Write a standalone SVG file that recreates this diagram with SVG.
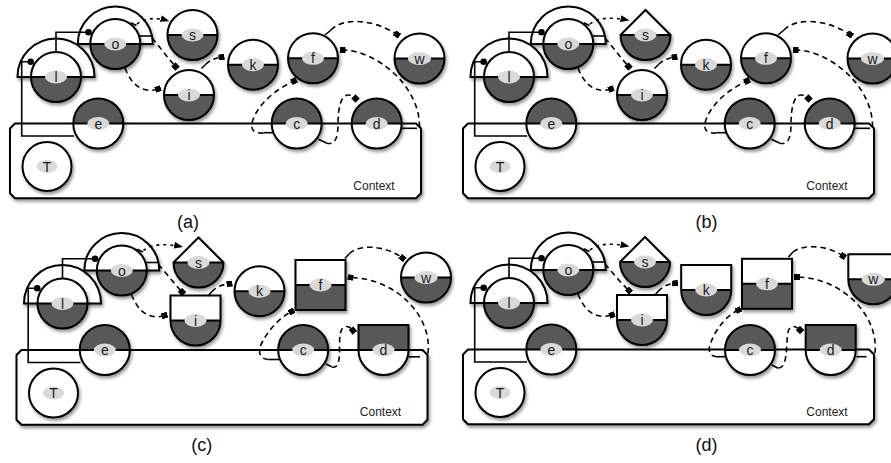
<svg xmlns="http://www.w3.org/2000/svg" xmlns:xlink="http://www.w3.org/1999/xlink" width="891" height="463" viewBox="0 0 891 463">
<style>
.ol{fill:none;stroke:#000;stroke-width:2}
.wf{fill:#fff}
.df{fill:#595959}
.lb{fill:#d9d9d9}
.tx{font-family:"Liberation Sans",Arial,sans-serif;font-size:14px;text-anchor:middle;fill:#1a1a1a}
.cap{font-family:"Liberation Sans",Arial,sans-serif;font-size:18px;text-anchor:middle;fill:#111}
.ctx{font-family:"Liberation Sans",Arial,sans-serif;font-size:12px;fill:#222}
.sl{fill:none;stroke:#000;stroke-width:1.6}
.da{fill:none;stroke:#000;stroke-width:1.6;stroke-dasharray:5.5 4}
.dt{fill:none;stroke:#000;stroke-width:1.6;stroke-dasharray:3 4}
.box{fill:#fff;stroke:#000;stroke-width:2}
</style>
<defs>
<filter id="sh" x="-25%" y="-25%" width="160%" height="160%"><feDropShadow dx="1.5" dy="2.5" stdDeviation="1.5" flood-color="#000" flood-opacity="0.4"/></filter>
<marker id="sq" viewBox="0 0 6 6" refX="3" refY="3" markerWidth="6" markerHeight="6" markerUnits="userSpaceOnUse" orient="auto"><rect width="6" height="6" fill="#000"/></marker>
<marker id="arr" viewBox="0 0 9 7" refX="8.5" refY="3.5" markerWidth="9" markerHeight="7" markerUnits="userSpaceOnUse" orient="auto"><path d="M0,0L9,3.5L0,7Z" fill="#000"/></marker>
<g id="cWD"><path class="wf" d="M-25,0A25,25 0 0 1 25,0Z"/><path class="df" d="M-25,0A25,25 0 0 0 25,0Z"/><circle class="ol" r="25"/><path class="ol" d="M-25,0H25"/></g>
<g id="cDW"><path class="df" d="M-25,0A25,25 0 0 1 25,0Z"/><path class="wf" d="M-25,0A25,25 0 0 0 25,0Z"/><circle class="ol" r="25"/><path class="ol" d="M-25,0H25"/></g>
<g id="cW"><circle class="wf" r="24.5"/><circle class="ol" r="24.5"/></g>
<g id="hWD"><path class="wf" d="M-25,0L0,-25L25,0Z"/><path class="df" d="M-25,0A25,25 0 0 0 25,0Z"/><path class="ol" d="M-25,0L0,-25L25,0A25,25 0 0 1 -25,0Z"/><path class="ol" d="M-25,0H25"/></g>
<g id="rWD"><rect class="wf" x="-25" y="-25" width="50" height="25"/><path class="df" d="M-25,0A25,25 0 0 0 25,0Z"/><path class="ol" d="M-25,0V-25H25V0A25,25 0 0 1 -25,0Z"/><path class="ol" d="M-25,0H25"/></g>
<g id="rDW"><rect class="df" x="-25" y="-25" width="50" height="25"/><path class="wf" d="M-25,0A25,25 0 0 0 25,0Z"/><path class="ol" d="M-25,0V-25H25V0A25,25 0 0 1 -25,0Z"/><path class="ol" d="M-25,0H25"/></g>
<g id="sWD"><rect class="wf" x="-25" y="-25" width="50" height="25"/><rect class="df" x="-25" y="0" width="50" height="25"/><rect class="ol" x="-25" y="-25" width="50" height="50"/><path class="ol" d="M-25,0H25"/></g>
<path id="arcL" d="M-38.5,0A38.5,38.5 0 0 1 38.5,0Z" fill="#fff" stroke="#000" stroke-width="2"/>
<path id="arcO" d="M-37.5,0A37.5,37.5 0 0 1 37.5,0Z" fill="#fff" stroke="#000" stroke-width="2"/>
<path id="boxP" d="M15,123.5H416L421,128.5V193.3L416,198.3H15L10,193.3V128.5Z"/>
</defs>

<!-- ===== Panel (a) ===== -->
<g id="panel-a">
<g id="a-context"><use href="#boxP" class="box" filter="url(#sh)"/><text class="ctx" x="353.3" y="189.5">Context</text></g>
<g id="a-T" transform="translate(47,166.5)"><use href="#cW" filter="url(#sh)"/><ellipse class="lb" rx="10.5" ry="6.5"/><text class="tx" y="5">T</text></g>
<g id="a-l" transform="translate(56,77)"><use href="#arcL" filter="url(#sh)"/><use href="#cWD" filter="url(#sh)"/><ellipse class="lb" rx="11" ry="6.5"/><text class="tx" y="5">l</text></g>
<g id="a-o" transform="translate(115.3,44)"><use href="#arcO" filter="url(#sh)"/><use href="#cWD" filter="url(#sh)"/><ellipse class="lb" rx="11" ry="6.5"/><text class="tx" y="5">o</text></g>
<g id="a-s" transform="translate(192.5,35)"><use href="#cWD" filter="url(#sh)"/><ellipse class="lb" rx="11" ry="6.5"/><text class="tx" y="5">s</text></g>
<g id="a-i" transform="translate(189,95)"><use href="#cWD" filter="url(#sh)"/><ellipse class="lb" rx="11" ry="6.5"/><text class="tx" y="5">i</text></g>
<g id="a-k" transform="translate(253,64.7)"><use href="#cWD" filter="url(#sh)"/><ellipse class="lb" rx="11" ry="6.5"/><text class="tx" y="5">k</text></g>
<g id="a-f" transform="translate(313,58.3)"><use href="#cWD" filter="url(#sh)"/><ellipse class="lb" rx="11" ry="6.5"/><text class="tx" y="5">f</text></g>
<g id="a-w" transform="translate(419.5,58.5)"><use href="#cWD" filter="url(#sh)"/><ellipse class="lb" rx="11.5" ry="6.5"/><text class="tx" y="5">w</text></g>
<g id="a-e" transform="translate(98.3,123.5)"><use href="#cDW" filter="url(#sh)"/><ellipse class="lb" rx="11" ry="6.5"/><text class="tx" y="5">e</text></g>
<g id="a-c" transform="translate(296.7,123.5)"><use href="#cDW" filter="url(#sh)"/><ellipse class="lb" rx="11" ry="6.5"/><text class="tx" y="5">c</text></g>
<g id="a-d" transform="translate(376.7,123.5)"><use href="#cDW" filter="url(#sh)"/><ellipse class="lb" rx="11" ry="6.5"/><text class="tx" y="5">d</text></g>
<g id="a-connectors">
<path class="sl" d="M74,136H21.7V61.7H28"/><circle cx="30.7" cy="61.7" r="3.3"/>
<path class="sl" d="M56,52V32.3H86"/><circle cx="88.5" cy="32.2" r="3.3"/>
<path class="sl" d="M130.7,22.7L136.5,25.5"/>
<path class="dt" marker-end="url(#arr)" d="M137,24C145,18 156,17 169,21"/>
<path class="sl" d="M140,36H152"/>
<path class="da" marker-end="url(#sq)" d="M152,38C159,46 167,57 175.5,66.5"/>
<path class="da" marker-end="url(#sq)" d="M125,68C131,84 142,94 158,89"/>
<path class="sl" d="M201.5,68.5L205.5,64.5"/>
<path class="da" marker-end="url(#sq)" d="M205.5,64.5C210,60 215,58 221.5,57.2"/>
<path class="sl" d="M325,35L331,30"/>
<path class="da" marker-end="url(#sq)" d="M331,30C342,18 372,18 397,34.5"/>
<path class="sl" d="M401.5,128.3H417"/>
<path class="da" marker-end="url(#sq)" d="M419.5,127C420,85 375,50 342.5,50"/>
<path class="sl" d="M273,132.7H263.5"/>
<path class="da" marker-end="url(#sq)" d="M263.5,133C250,134 249,126 256,113C264,99 279,88 294,81"/>
<path class="sl" d="M318.3,139.3L326,142.7"/>
<path class="da" marker-end="url(#sq)" d="M326,143C336,146 338,136 338,124C338,108 341,95 348,95C351,95 353,96 355.5,98.5"/>
</g>
</g>

<!-- ===== Panel (b) ===== -->
<g id="panel-b" transform="translate(453,0)">
<g id="b-context"><use href="#boxP" class="box" filter="url(#sh)"/><text class="ctx" x="353.3" y="189.5">Context</text></g>
<g id="b-T" transform="translate(47,166.5)"><use href="#cW" filter="url(#sh)"/><ellipse class="lb" rx="10.5" ry="6.5"/><text class="tx" y="5">T</text></g>
<g id="b-l" transform="translate(56,77)"><use href="#arcL" filter="url(#sh)"/><use href="#cWD" filter="url(#sh)"/><ellipse class="lb" rx="11" ry="6.5"/><text class="tx" y="5">l</text></g>
<g id="b-o" transform="translate(115.3,44)"><use href="#arcO" filter="url(#sh)"/><use href="#cWD" filter="url(#sh)"/><ellipse class="lb" rx="11" ry="6.5"/><text class="tx" y="5">o</text></g>
<g id="b-s" transform="translate(192.5,35)"><use href="#hWD" filter="url(#sh)"/><ellipse class="lb" rx="11" ry="6.5"/><text class="tx" y="5">s</text></g>
<g id="b-i" transform="translate(189,95)"><use href="#cWD" filter="url(#sh)"/><ellipse class="lb" rx="11" ry="6.5"/><text class="tx" y="5">i</text></g>
<g id="b-k" transform="translate(253,64.7)"><use href="#cWD" filter="url(#sh)"/><ellipse class="lb" rx="11" ry="6.5"/><text class="tx" y="5">k</text></g>
<g id="b-f" transform="translate(313,58.3)"><use href="#cWD" filter="url(#sh)"/><ellipse class="lb" rx="11" ry="6.5"/><text class="tx" y="5">f</text></g>
<g id="b-w" transform="translate(419.5,58.5)"><use href="#cWD" filter="url(#sh)"/><ellipse class="lb" rx="11.5" ry="6.5"/><text class="tx" y="5">w</text></g>
<g id="b-e" transform="translate(98.3,123.5)"><use href="#cDW" filter="url(#sh)"/><ellipse class="lb" rx="11" ry="6.5"/><text class="tx" y="5">e</text></g>
<g id="b-c" transform="translate(296.7,123.5)"><use href="#cDW" filter="url(#sh)"/><ellipse class="lb" rx="11" ry="6.5"/><text class="tx" y="5">c</text></g>
<g id="b-d" transform="translate(376.7,123.5)"><use href="#cDW" filter="url(#sh)"/><ellipse class="lb" rx="11" ry="6.5"/><text class="tx" y="5">d</text></g>
<g id="b-connectors">
<path class="sl" d="M74,136H21.7V61.7H28"/><circle cx="30.7" cy="61.7" r="3.3"/>
<path class="sl" d="M56,52V32.3H86"/><circle cx="88.5" cy="32.2" r="3.3"/>
<path class="sl" d="M130.7,22.7L136.5,25.5"/>
<path class="dt" marker-end="url(#arr)" d="M137,24C146,17 160,17 176,20.5"/>
<path class="sl" d="M140,36H152"/>
<path class="da" marker-end="url(#sq)" d="M152,38C159,46 167,57 175.5,66.5"/>
<path class="da" marker-end="url(#sq)" d="M125,68C131,84 142,94 158,89"/>
<path class="sl" d="M201.5,68.5L205.5,64.5"/>
<path class="da" marker-end="url(#sq)" d="M205.5,64.5C210,60 215,58 221.5,57.2"/>
<path class="sl" d="M325,35L331,30"/>
<path class="da" marker-end="url(#sq)" d="M331,30C342,18 372,18 397,34.5"/>
<path class="sl" d="M401.5,128.3H417"/>
<path class="da" marker-end="url(#sq)" d="M419.5,127C420,85 375,50 342.5,50"/>
<path class="sl" d="M273,132.7H263.5"/>
<path class="da" marker-end="url(#sq)" d="M263.5,133C250,134 249,126 256,113C264,99 279,88 294,81"/>
<path class="sl" d="M318.3,139.3L326,142.7"/>
<path class="da" marker-end="url(#sq)" d="M326,143C336,146 338,136 338,124C338,108 341,95 348,95C351,95 353,96 355.5,98.5"/>
</g>
</g>

<!-- ===== Panel (c) ===== -->
<g id="panel-c" transform="translate(6.5,226.5)">
<g id="c-context"><use href="#boxP" class="box" filter="url(#sh)"/><text class="ctx" x="353.3" y="189.5">Context</text></g>
<g id="c-T" transform="translate(47,166.5)"><use href="#cW" filter="url(#sh)"/><ellipse class="lb" rx="10.5" ry="6.5"/><text class="tx" y="5">T</text></g>
<g id="c-l" transform="translate(56,77)"><use href="#arcL" filter="url(#sh)"/><use href="#cWD" filter="url(#sh)"/><ellipse class="lb" rx="11" ry="6.5"/><text class="tx" y="5">l</text></g>
<g id="c-o" transform="translate(115.3,44)"><use href="#arcO" filter="url(#sh)"/><use href="#cWD" filter="url(#sh)"/><ellipse class="lb" rx="11" ry="6.5"/><text class="tx" y="5">o</text></g>
<g id="c-s" transform="translate(192,36)"><use href="#hWD" filter="url(#sh)"/><ellipse class="lb" rx="11" ry="6.5"/><text class="tx" y="5">s</text></g>
<g id="c-i" transform="translate(189,94)"><use href="#rWD" filter="url(#sh)"/><ellipse class="lb" rx="11" ry="6.5"/><text class="tx" y="5">i</text></g>
<g id="c-k" transform="translate(253,64.7)"><use href="#cWD" filter="url(#sh)"/><ellipse class="lb" rx="11" ry="6.5"/><text class="tx" y="5">k</text></g>
<g id="c-f" transform="translate(314,58.5)"><use href="#sWD" filter="url(#sh)"/><ellipse class="lb" rx="11" ry="6.5"/><text class="tx" y="5">f</text></g>
<g id="c-w" transform="translate(419.5,51)"><use href="#cWD" filter="url(#sh)"/><ellipse class="lb" rx="11.5" ry="6.5"/><text class="tx" y="5">w</text></g>
<g id="c-e" transform="translate(98.3,123.5)"><use href="#cDW" filter="url(#sh)"/><ellipse class="lb" rx="11" ry="6.5"/><text class="tx" y="5">e</text></g>
<g id="c-c" transform="translate(296.7,123.5)"><use href="#cDW" filter="url(#sh)"/><ellipse class="lb" rx="11" ry="6.5"/><text class="tx" y="5">c</text></g>
<g id="c-d" transform="translate(377,123.5)"><use href="#rDW" filter="url(#sh)"/><ellipse class="lb" rx="11" ry="6.5"/><text class="tx" y="5">d</text></g>
<g id="c-connectors">
<path class="sl" d="M74,136H21.7V61.7H28"/><circle cx="30.7" cy="61.7" r="3.3"/>
<path class="sl" d="M56,52V32.3H86"/><circle cx="88.5" cy="32.2" r="3.3"/>
<path class="sl" d="M130.7,22.7L136.5,25.5"/>
<path class="dt" marker-end="url(#arr)" d="M137,24C146,17 160,17 176,20.5"/>
<path class="sl" d="M140,36H152"/>
<path class="da" marker-end="url(#sq)" d="M152,38C159,46 167,56 175.5,65.5"/>
<path class="da" marker-end="url(#sq)" d="M125,68C131,84 142,94 158,89"/>
<path class="sl" d="M201.5,69.5L205,65.5"/>
<path class="da" marker-end="url(#sq)" d="M205,65.5C210,60 216,58 223,57.3"/>
<path class="sl" d="M338.5,32L343,27"/>
<path class="da" marker-end="url(#sq)" d="M343,27C352,18 378,18 396,31.5"/>
<path class="sl" d="M401.5,130.3H413.5"/>
<path class="da" marker-end="url(#sq)" d="M421.5,127C426,90 390,52 344,51"/>
<path class="sl" d="M272.5,133H262"/>
<path class="da" marker-end="url(#sq)" d="M262,133C252,132.5 251,124 256,115C262,104 272,92 285,85"/>
<path class="sl" d="M319.5,137.5L325.2,140.2"/>
<path class="da" marker-end="url(#sq)" d="M325.5,140.5C331,142 333,136 333,124C333,110 333,100 340,100C343,100 345,102 346.5,104"/>
</g>
</g>

<!-- ===== Panel (d) ===== -->
<g id="panel-d" transform="translate(453,226)">
<g id="d-context"><use href="#boxP" class="box" filter="url(#sh)"/><text class="ctx" x="353.3" y="189.5">Context</text></g>
<g id="d-T" transform="translate(47,166.5)"><use href="#cW" filter="url(#sh)"/><ellipse class="lb" rx="10.5" ry="6.5"/><text class="tx" y="5">T</text></g>
<g id="d-l" transform="translate(56,77)"><use href="#arcL" filter="url(#sh)"/><use href="#cWD" filter="url(#sh)"/><ellipse class="lb" rx="11" ry="6.5"/><text class="tx" y="5">l</text></g>
<g id="d-o" transform="translate(115.3,44)"><use href="#arcO" filter="url(#sh)"/><use href="#cWD" filter="url(#sh)"/><ellipse class="lb" rx="11" ry="6.5"/><text class="tx" y="5">o</text></g>
<g id="d-s" transform="translate(192,36)"><use href="#hWD" filter="url(#sh)"/><ellipse class="lb" rx="11" ry="6.5"/><text class="tx" y="5">s</text></g>
<g id="d-i" transform="translate(189,94)"><use href="#rWD" filter="url(#sh)"/><ellipse class="lb" rx="11" ry="6.5"/><text class="tx" y="5">i</text></g>
<g id="d-k" transform="translate(253.2,64)"><use href="#rWD" filter="url(#sh)"/><ellipse class="lb" rx="11" ry="6.5"/><text class="tx" y="5">k</text></g>
<g id="d-f" transform="translate(314,57.8)"><use href="#sWD" filter="url(#sh)"/><ellipse class="lb" rx="11" ry="6.5"/><text class="tx" y="5">f</text></g>
<g id="d-w" transform="translate(420.3,53.3)"><use href="#rWD" filter="url(#sh)"/><ellipse class="lb" rx="11.5" ry="6.5"/><text class="tx" y="5">w</text></g>
<g id="d-e" transform="translate(98.3,123.5)"><use href="#cDW" filter="url(#sh)"/><ellipse class="lb" rx="11" ry="6.5"/><text class="tx" y="5">e</text></g>
<g id="d-c" transform="translate(297,124)"><use href="#cDW" filter="url(#sh)"/><ellipse class="lb" rx="11" ry="6.5"/><text class="tx" y="5">c</text></g>
<g id="d-d" transform="translate(377.7,124)"><use href="#rDW" filter="url(#sh)"/><ellipse class="lb" rx="11" ry="6.5"/><text class="tx" y="5">d</text></g>
<g id="d-connectors">
<path class="sl" d="M74,136H21.7V61.7H28"/><circle cx="30.7" cy="61.7" r="3.3"/>
<path class="sl" d="M56,52V32.3H86"/><circle cx="88.5" cy="32.2" r="3.3"/>
<path class="sl" d="M130.7,22.7L136.5,25.5"/>
<path class="dt" marker-end="url(#arr)" d="M137,24C146,17 160,17 176,20.5"/>
<path class="sl" d="M140,36H152"/>
<path class="da" marker-end="url(#sq)" d="M152,38C159,46 167,56 176,64.7"/>
<path class="da" marker-end="url(#sq)" d="M125,68C131,84 142,94 159,89"/>
<path class="sl" d="M201.5,69.5L205,65.5"/>
<path class="da" marker-end="url(#sq)" d="M205,65.5C210,60 215,58 222,57.3"/>
<path class="sl" d="M335.5,31L340,26"/>
<path class="da" marker-end="url(#sq)" d="M340,26C350,18 375,19 390,30"/>
<path class="sl" d="M403.5,130.7H413.5"/>
<path class="da" marker-end="url(#sq)" d="M422,127C426,90 390,52 344,51"/>
<path class="sl" d="M272,130.7H264"/>
<path class="da" marker-end="url(#sq)" d="M264,130.7C255,130.7 255,122 258,116C263,103 273,90 285.3,84"/>
<path class="sl" d="M318.7,139L325.3,142.3"/>
<path class="da" marker-end="url(#sq)" d="M325.5,142C331,142 333,134 333.7,121C334.5,106 335,100.5 340.5,100.5C343,100.5 345,102 347,104"/>
</g>
</g>

<g id="captions">
<text class="cap" x="188" y="228">(a)</text>
<text class="cap" x="706.5" y="228">(b)</text>
<text class="cap" x="201.7" y="451">(c)</text>
<text class="cap" x="706.5" y="451">(d)</text>
</g>
</svg>
